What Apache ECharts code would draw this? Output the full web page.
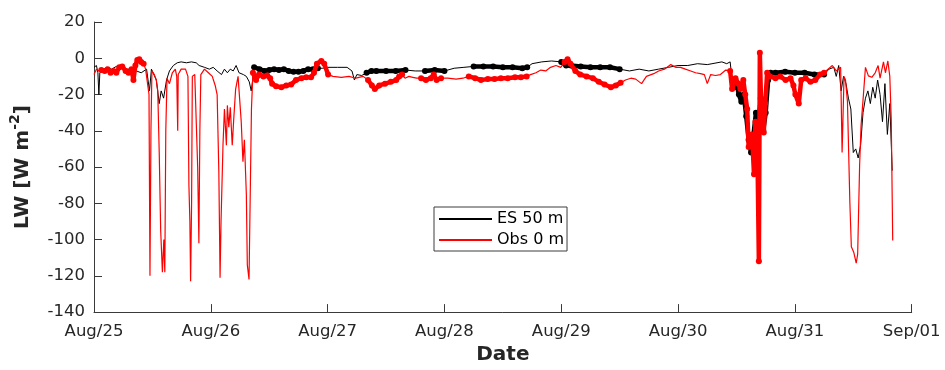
<!DOCTYPE html>
<html>
<head>
<meta charset="utf-8">
<script src="https://cdn.jsdelivr.net/npm/echarts/dist/echarts.min.js"></script>
<style>html,body{margin:0;padding:0;background:#fff}#c{width:945px;height:370px}</style>
</head>
<body>
<div id="c"></div>
<script>
// x in hours since Aug 25 00:00
const tickLabels = ['Aug/25','Aug/26','Aug/27','Aug/28','Aug/29','Aug/30','Aug/31','Sep/01'];
const yTicks = [-140,-120,-100,-80,-60,-40,-20,0,20];

const esHours = [0,0.5,0.8,1.0,1.2,1.5,2.6,3.6,4.6,5.6,
6.7,7.7,8.7,9.7,10.8,11.4,11.8,12.2,12.8,13.4,
13.8,14.3,14.9,15.5,16.3,17.1,17.9,19.0,20.0,21.0,
21.6,22.7,23.7,24.5,25.3,26.2,26.8,27.4,28.0,28.6,
29.2,29.8,30.7,31.3,31.9,32.3,32.6,32.9,34,35,
36,37,38,39,40,41,42,43,44,45,
46,47,48,50,52,53,53.5,54,55,56,
57,58,60,62,64,66,68,70,72,74,
76,78,80,82,84,86,88,89,90,92,
94,96,97,98,100,102,104,106,108,110,
112,114,116,118,120,122,124,126,128,129,
130,130.7,131.1,131.5,132,132.5,133,133.5,134,134.5,
135,135.5,136,136.5,137,137.5,138,138.5,139,140,
142,144,146,148,150,151,152,152.5,153,153.5,
154,154.5,155,155.5,156,156.5,157,157.5,158,158.5,
159,159.5,160,160.5,161,161.5,162,162.5,163,163.5,
164];
const esValues = [-5,-4,-8,-20,-8,-7,-5,-6,-4.5,-5,
-6,-6,-7,-8,-6,-18,-6,-7,-12,-25,
-18,-22,-12,-7,-4,-2.5,-2,-2.5,-2,-2.5,
-4,-5,-6,-5,-7,-9,-6,-8,-6,-7,
-4,-8,-9,-10,-13,-18,-12,-5,-6,-7,
-6.5,-6,-6.5,-6,-7,-7.5,-7.5,-7,-6,-6,
-5.5,-5.5,-5,-5,-5,-7,-12,-9,-9.5,-8,
-7,-7,-7,-7,-6.5,-7,-7,-6.5,-7,-5.5,
-5,-4.5,-4.5,-4.5,-5,-5,-5.5,-5,-3,-2,
-1.5,-2,-4,-4,-4.5,-5,-5,-5,-6,-7,
-6,-7,-6,-5,-4,-4,-3,-3.5,-2.5,-2,
-3,-2,-12,-16,-14,-20,-24,-20,-32,-45,
-52,-42,-30,-35,-22,-40,-30,-12,-8,-8,
-7.5,-8,-8,-9,-9,-6,-5,-10,-4,-18,
-10,-14,-22,-28,-52,-50,-55,-48,-30,-22,
-18,-25,-16,-22,-12,-20,-35,-14,-42,-25,
-62];

const obsHours = [0,0.5,1.0,1.5,2.2,2.8,3.4,4.0,4.6,5.2,
5.8,6.5,7.1,7.7,8.1,8.5,8.9,9.3,9.7,10.2,
10.6,11.0,11.3,11.5,11.7,11.9,12.4,12.8,13.1,13.4,
13.7,14.05,14.35,14.55,14.75,15.0,15.5,16.1,16.7,17.0,
17.2,17.3,17.9,18.8,19.3,19.5,19.7,19.85,20.05,20.2,
20.7,21.1,21.3,21.55,21.75,21.95,22.7,23.5,24.3,24.9,
25.3,25.65,25.9,26.1,26.5,26.8,27.2,27.4,27.7,28.0,
28.4,28.7,29.1,29.6,29.9,30.25,30.6,30.9,31.3,31.5,
31.85,32.15,32.35,32.65,33.3,33.9,34.8,35.6,36.2,36.6,
37.4,38.5,39.5,40.5,41.5,42.6,43.6,44.6,45.2,45.8,
46.7,47.3,48.1,49.1,50.8,52.4,53.8,55.3,56.3,57.1,
57.7,58.6,59.8,61.0,62.1,62.7,63.3,63.9,64.7,65.5,
66.3,67.2,68.2,69.2,69.8,70.4,71.3,72.7,74.4,75.8,
77.0,78.3,79.5,80.9,82.3,83.6,85.0,86.5,87.7,88.9,
89.7,90.8,91.8,92.8,93.8,94.9,95.9,96.7,97.3,97.9,
98.9,99.9,101.2,102.5,103.7,104.9,106.2,107.2,108.2,109.2,
110.3,111.3,112.5,113.5,115.0,116.0,117.2,118.5,119.5,120.5,
121.5,122.6,123.6,124.6,125.4,126.0,126.7,127.7,128.7,129.8,
130.7,131.1,131.8,132.4,132.8,133.4,133.8,134.2,134.5,134.9,
135.2,135.6,135.9,136.3,136.6,136.8,137.1,137.6,137.9,138.3,
138.9,140.0,141.0,142.1,143.1,143.7,144.1,144.8,145.3,146.2,
147.2,148.2,149.2,150.0,150.8,151.7,152.5,153.4,153.7,154.1,
154.4,154.8,155.3,155.6,156.1,156.6,156.9,157.3,157.6,158.0,
158.5,159.1,159.8,160.5,161.1,161.5,162.2,162.6,163.1,163.5,
163.8,164.1];
const obsValues = [-9,-6,-7,-6.5,-7,-6,-8,-7,-8,-5,
-4.5,-7,-8,-6,-12,-4,-1,-0.5,-2,-3,
-6,-5,-20,-120,-40,-7,-9,-12,-18,-52,
-95,-118,-100,-118,-40,-11,-14,-8,-6,-10,
-40,-9,-6,-6,-10,-70,-90,-123,-80,-10,
-9,-10,-60,-102,-40,-9,-6,-8,-10,-15,
-20,-63,-121,-90,-48,-28,-48,-26,-38,-27,
-48,-34,-17,-10,-11,-35,-57,-45,-75,-114,
-122,-121,-28,-8,-12,-9,-10,-9.5,-11,-14,
-15.5,-16,-15,-14.5,-12,-11,-10.5,-10.5,-8,-3,
-1.5,-3,-9,-10,-10.5,-10,-11,-10,-12,-15,
-17,-15,-14,-13,-12,-10,-9,-11,-10,-10.5,
-11,-11,-12,-11,-9,-12,-11,-11,-11.5,-11,
-10,-11,-12,-11.5,-11.5,-11,-11,-10.5,-10.5,-10,
-9,-8,-6.5,-7,-5,-4,-5,-2,-0.5,-3,
-7,-9,-10,-11,-13,-14.5,-16,-15,-13.5,-12,
-11,-11.5,-14,-10,-8.5,-7,-6,-3.5,-5,-5,
-6,-7,-8,-8.5,-9,-14,-9,-9.5,-9,-6.5,
-7,-17,-11,-14,-17,-12,-20,-28,-49,-45,
-42,-64,-35,-50,-112,3,-30,-41,-25,-8,
-10,-11,-10,-12,-11,-15,-20,-25,-12,-11,
-13,-12,-9,-8,-6,-4,-7,-5,-52,-10,
-12,-24,-80,-104,-107,-113,-108,-59,-37,-23,
-5,-9.7,-10.5,-8,-4,-11,-2,-8,-1.5,-10,
-34,-100.5];

// time ranges (hours) where samples are drawn with dot markers
const esMarked = [[32.7,46.7],[56,64.5],[66.5,72.7],[77,89.5],[96,108.2],[131,150]];
const obsMarked = [[1.5,10.2],[32.6,48.2],[56,63.5],[66.5,71.5],[77,89],[96,108.3],[130.5,150]];

function pairs(h, v) { return h.map((t, i) => [t, v[i]]); }
function markedPairs(h, v, ranges) {
  return h.map((t, i) => ranges.some(r => t >= r[0] && t <= r[1]) ? [t, v[i]] : [t, '-']);
}

const FONT = 'DejaVu Sans';
const AX = '#3a3a3a';

const chart = echarts.init(document.getElementById('c'), null, {renderer: 'canvas'});
chart.setOption({
  animation: false,
  backgroundColor: '#fff',
  grid: {left: 92.5, right: 33.3, top: 22, bottom: 52, containLabel: false},
  legend: {
    data: [{name: 'ES 50 m'}, {name: 'Obs 0 m'}],
    orient: 'vertical', left: 434, top: 207,
    icon: 'rect', itemWidth: 53, itemHeight: 2, itemGap: 5,
    padding: [4, 3, 3, 5],
    borderColor: '#3c3c3c', borderWidth: 1, backgroundColor: '#fff',
    textStyle: {fontFamily: FONT, fontSize: 16, color: '#000', lineHeight: 16},
    selectedMode: false
  },
  xAxis: {
    type: 'value', min: 0, max: 168, interval: 24,
    name: 'Date', nameLocation: 'middle', nameGap: 31,
    nameTextStyle: {fontFamily: FONT, fontSize: 20, fontWeight: 'bold', color: '#262626'},
    axisLine: {show: true, onZero: false, lineStyle: {color: AX, width: 1}},
    axisTick: {show: true, inside: true, length: 8, lineStyle: {color: AX}},
    axisLabel: {fontFamily: FONT, fontSize: 16.5, color: '#262626', margin: 11,
      formatter: v => tickLabels[Math.round(v / 24)] || ''},
    splitLine: {show: false}
  },
  yAxis: {
    type: 'value', min: yTicks[0], max: yTicks[yTicks.length - 1], interval: 20,
    name: '{b|LW [W m}{s|-2}{b|]}', nameLocation: 'middle', nameGap: 56, nameRotate: 90,
    nameTextStyle: {
      fontFamily: FONT, fontSize: 20, fontWeight: 'bold', color: '#262626',
      rich: {
        b: {fontFamily: FONT, fontSize: 20, fontWeight: 'bold', color: '#262626', lineHeight: 30},
        s: {fontFamily: FONT, fontSize: 14, fontWeight: 'bold', color: '#262626', lineHeight: 14, verticalAlign: 'top'}
      }
    },
    axisLine: {show: true, onZero: false, lineStyle: {color: AX, width: 1}},
    axisTick: {show: true, inside: true, length: 8, lineStyle: {color: AX}},
    axisLabel: {fontFamily: FONT, fontSize: 16.5, color: '#262626', margin: 9},
    splitLine: {show: false}
  },
  series: [
    {name: 'ES 50 m', type: 'line', data: pairs(esHours, esValues), showSymbol: false,
     color: '#000', lineStyle: {color: '#000', width: 1}, z: 2},
    {name: 'ES marked', type: 'line', data: markedPairs(esHours, esValues, esMarked),
     symbol: 'circle', symbolSize: 6, showSymbol: true, showAllSymbol: true, connectNulls: false,
     color: '#000', itemStyle: {color: '#000'}, lineStyle: {color: '#000', width: 4.5}, z: 3},
    {name: 'Obs 0 m', type: 'line', data: pairs(obsHours, obsValues), showSymbol: false,
     color: '#ff0000', lineStyle: {color: '#ff0000', width: 1.2}, z: 4},
    {name: 'Obs marked', type: 'line', data: markedPairs(obsHours, obsValues, obsMarked),
     symbol: 'circle', symbolSize: 6, showSymbol: true, showAllSymbol: true, connectNulls: false,
     color: '#ff0000', itemStyle: {color: '#ff0000'}, lineStyle: {color: '#ff0000', width: 4.5}, z: 5}
  ]
});
</script>
</body>
</html>
